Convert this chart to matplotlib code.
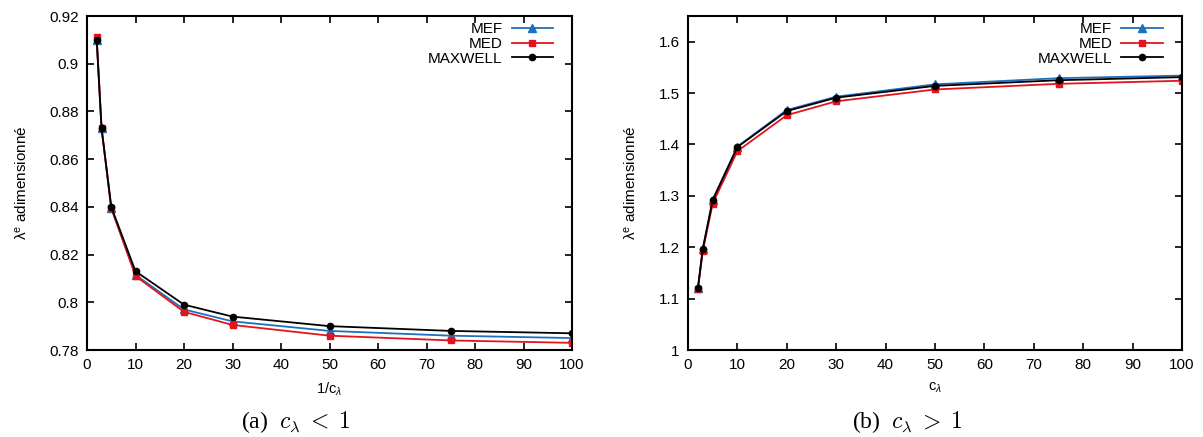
import matplotlib
matplotlib.use("Agg")
import matplotlib.pyplot as plt

plt.rcParams['font.family'] = ['Liberation Sans', 'DejaVu Sans']
plt.rcParams['mathtext.fontset'] = 'custom'
plt.rcParams['mathtext.rm'] = 'Liberation Sans'
plt.rcParams['mathtext.it'] = 'Liberation Sans:italic'

# (a) c_lambda < 1, x = 1/c_lambda
x_a = [2, 3, 5, 10, 20, 30, 50, 75, 100]
mef_a = [0.910, 0.873, 0.8395, 0.8115, 0.797, 0.792, 0.788, 0.786, 0.785]
med_a = [0.911, 0.873, 0.8395, 0.811, 0.796, 0.7905, 0.786, 0.784, 0.783]
max_a = [0.910, 0.873, 0.840, 0.813, 0.799, 0.794, 0.790, 0.788, 0.787]

# (b) c_lambda > 1
x_b = [2, 3, 5, 10, 20, 30, 50, 75, 100]
mef_b = [1.120, 1.197, 1.292, 1.396, 1.467, 1.493, 1.517, 1.529, 1.534]
med_b = [1.118, 1.193, 1.285, 1.387, 1.457, 1.484, 1.507, 1.518, 1.524]
max_b = [1.120, 1.197, 1.292, 1.395, 1.465, 1.491, 1.514, 1.525, 1.531]

yt_a = [0.78, 0.8, 0.82, 0.84, 0.86, 0.88, 0.9, 0.92]
yt_b = [1, 1.1, 1.2, 1.3, 1.4, 1.5, 1.6]
xt = [0, 10, 20, 30, 40, 50, 60, 70, 80, 90, 100]

blue = '#1f6fbf'
red = '#e2141c'

fig = plt.figure(figsize=(12.03, 4.37), dpi=100)
ax1 = fig.add_axes([87/1203, 87/437, 485/1203, 334/437])
ax2 = fig.add_axes([688/1203, 87/437, 494/1203, 334/437])


def draw(ax, x, mef, med, mx, yticks, ylim, xlabel, anchor_x):
    ax.plot(x, mef, '-', color=blue, marker='^', ms=5.5, lw=1.3, label='MEF')
    ax.plot(x, med, '-', color=red, marker='s', ms=4.5, lw=1.3, label='MED')
    ax.plot(x, mx, '-', color='black', marker='o', ms=4.5, lw=1.3, label='MAXWELL')
    ax.set_xlim(0, 100)
    ax.set_ylim(*ylim)
    ax.set_xticks(xt)
    ax.set_xticklabels([str(v) for v in xt])
    ax.set_yticks(yticks)
    ax.set_yticklabels([('%g' % v) for v in yticks])
    ax.tick_params(direction='in', top=True, right=True, length=5, width=1.2,
                   labelsize=11, pad=6)
    for s in ax.spines.values():
        s.set_linewidth(1.5)
    ax.set_xlabel(xlabel, fontsize=10.5, labelpad=6)
    ax.set_ylabel(r'λ$^{\mathrm{e}}$ adimensionné', fontsize=11, labelpad=14)
    ax.legend(loc='upper right', frameon=False, markerfirst=False,
              fontsize=11, handlelength=2.7, handletextpad=0.6,
              labelspacing=0.05, borderaxespad=0.0,
              bbox_to_anchor=(anchor_x, 1.0))


draw(ax1, x_a, mef_a, med_a, max_a, yt_a, (0.78, 0.92), r'1/c$_\lambda$', 0.973)
draw(ax2, x_b, mef_b, med_b, max_b, yt_b, (1.0, 1.65), r'c$_\lambda$', 0.973)

fig.text(296/1203, 1 - 422/437, r'(a)  $c_\lambda \;<\; 1$', ha='center', va='center',
         fontsize=17, family='Liberation Serif', math_fontfamily='cm')
fig.text(907/1203, 1 - 422/437, r'(b)  $c_\lambda \;>\; 1$', ha='center', va='center',
         fontsize=17, family='Liberation Serif', math_fontfamily='cm')

fig.savefig('out.png', dpi=100)
